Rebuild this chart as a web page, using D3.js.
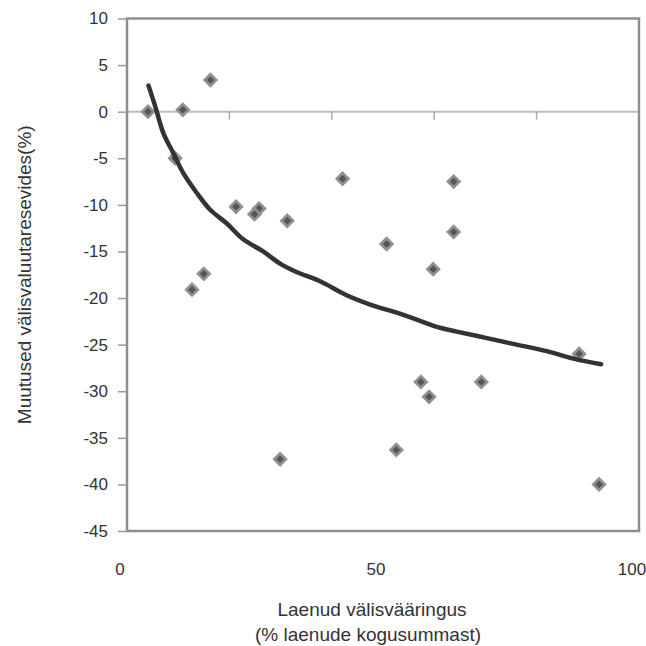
<!DOCTYPE html>
<html>
<head>
<meta charset="utf-8">
<script src="https://cdn.jsdelivr.net/npm/d3@7"></script>
<style>
  body { margin: 0; background: #fff; }
  text { font-family: "Liberation Sans", Arial, sans-serif; fill: #333; }
</style>
</head>
<body>
<svg width="646" height="646"></svg>
<script>
const xVals = [4.1, 10.9, 16.3, 9.4, 42.1, 63.8, 21.3, 25.8, 24.9, 31.3, 50.7,
               63.8, 59.8, 15.0, 12.7, 88.3, 57.4, 69.2, 59.0, 52.6, 29.9, 92.2]
const yVals = [0, 0.2, 3.4, -5.0, -7.2, -7.5, -10.2, -10.4, -11.0, -11.7, -14.2,
               -12.9, -16.9, -17.4, -19.1, -26.0, -29.0, -29.0, -30.6, -36.3, -37.3, -40.0]

// trend line
const trendX = [4.2, 5.5, 7.1, 9.0, 11.0, 13.6, 16.2, 19.5, 22.7, 26.6, 29.9, 33.1,
                37.7, 42.9, 47.5, 54.0, 60.5, 64.4, 70.3, 76.1, 82.0, 87.2, 92.6]
const trendY = [2.8, 0.6, -2.3, -4.4, -6.6, -8.7, -10.5, -12.0, -13.7, -15.0, -16.3, -17.2,
                -18.2, -19.7, -20.7, -21.8, -23.1, -23.6, -24.3, -25.0, -25.7, -26.5, -27.1]

const yTicks = [10, 5, 0, -5, -10, -15, -20, -25, -30, -35, -40, -45]
const xTickMarks = [20, 40, 60, 80, 100]
const xTickLabels = [0, 50, 100]

let plotLeft = 127
let plotRight = 639
let plotTop = 18.5
let plotBottom = 531

let xScale = d3.scaleLinear().domain([0, 100]).range([plotLeft, plotRight])
let yScale = d3.scaleLinear().domain([-45, 10]).range([plotBottom, plotTop])

const svg = d3.select('svg')
const frameColor = '#8e8e8e'

// zero line
svg.append('line')
    .attr('x1', plotLeft).attr('x2', plotRight)
    .attr('y1', yScale(0)).attr('y2', yScale(0))
    .attr('stroke', '#bdbdbd')
    .attr('stroke-width', 2)

// x tick marks hang from the zero line
svg.selectAll('.xtick')
  .data(xTickMarks)
  .enter()
  .append('line')
    .attr('x1', d => xScale(d)).attr('x2', d => xScale(d))
    .attr('y1', yScale(0)).attr('y2', yScale(0) + 8)
    .attr('stroke', '#aaa')
    .attr('stroke-width', 1.5)

// frame
svg.append('rect')
    .attr('x', plotLeft).attr('y', plotTop)
    .attr('width', plotRight - plotLeft).attr('height', plotBottom - plotTop)
    .attr('fill', 'none')
    .attr('stroke', frameColor)
    .attr('stroke-width', 2.5)

// y axis ticks + labels (plain hyphen minus, like the original)
let yAxis = d3.axisLeft(yScale)
    .tickValues(yTicks)
    .tickSize(9)
    .tickPadding(10)
    .tickFormat(d => String(d))

let yAxisG = svg.append('g')
    .attr('transform', `translate(${plotLeft},0)`)
    .call(yAxis)
yAxisG.select('.domain').remove()
yAxisG.selectAll('line').attr('stroke', '#999').attr('stroke-width', 1.5)
yAxisG.selectAll('text')
    .attr('font-size', 17)
    .attr('font-family', '"Liberation Sans", Arial, sans-serif')
    .attr('fill', '#333')

// x labels along the bottom
svg.selectAll('.xlab')
  .data(xTickLabels)
  .enter()
  .append('text')
    .attr('x', d => xScale(d) - 7)
    .attr('y', 575)
    .attr('text-anchor', 'middle')
    .attr('font-size', 17)
    .text(d => d)

// points (two-tone diamonds)
let points = xVals.map((x, i) => ({ x: x, y: yVals[i] }))
let outer = d3.symbol().type(d3.symbolSquare).size(118)
let inner = d3.symbol().type(d3.symbolSquare).size(30)

let pts = svg.selectAll('.pt')
  .data(points)
  .enter()
  .append('g')
    .attr('transform', d => `translate(${xScale(d.x)},${yScale(d.y)}) rotate(45)`)
pts.append('path').attr('d', outer).attr('fill', '#909090')
pts.append('path').attr('d', inner).attr('fill', '#555')

// trend line
let line = d3.line()
    .x((d, i) => xScale(trendX[i]))
    .y(d => yScale(d))
    .curve(d3.curveCatmullRom)

svg.append('path')
    .attr('d', line(trendY))
    .attr('fill', 'none')
    .attr('stroke', '#333')
    .attr('stroke-width', 4.5)
    .attr('stroke-linecap', 'round')

// axis titles
svg.append('text')
    .attr('transform', `translate(26,${(plotTop + plotBottom) / 2}) rotate(-90)`)
    .attr('text-anchor', 'middle')
    .attr('dominant-baseline', 'middle')
    .attr('font-size', 19)
    .text('Muutused välisvaluutaresevides(%)')

svg.append('text')
    .attr('x', 372).attr('y', 616)
    .attr('text-anchor', 'middle')
    .attr('font-size', 19)
    .text('Laenud välisvääringus')

svg.append('text')
    .attr('x', 368).attr('y', 641)
    .attr('text-anchor', 'middle')
    .attr('font-size', 19)
    .text('(% laenude kogusummast)')
</script>
</body>
</html>
